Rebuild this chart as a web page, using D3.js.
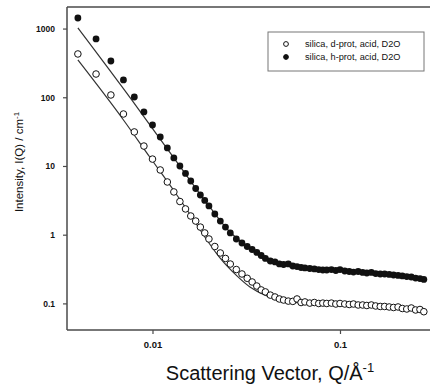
<!DOCTYPE html>
<html>
<head>
<meta charset="utf-8">
<script src="https://cdn.jsdelivr.net/npm/d3@7"></script>
<style>
  html, body { margin: 0; padding: 0; background: #fff; }
  svg { display: block; font-family: "Liberation Sans", Arial, sans-serif; }
</style>
</head>
<body>
<svg id="chart" width="430" height="384"></svg>
<script>
// scattering vector Q (1/Å), shared by both measured series
const qValues = [
  0.004, 0.005, 0.006, 0.007, 0.008, 0.009, 0.010, 0.011, 0.012, 0.013,
  0.014, 0.015, 0.016, 0.017, 0.018, 0.019, 0.020, 0.0215, 0.023, 0.0245,
  0.026, 0.028, 0.030, 0.032, 0.034, 0.036, 0.038, 0.040, 0.0425, 0.045,
  0.0475, 0.050, 0.053, 0.056, 0.059, 0.062, 0.065, 0.069, 0.073, 0.077,
  0.081, 0.085, 0.090, 0.095, 0.100, 0.106, 0.112, 0.118, 0.125, 0.132,
  0.139, 0.147, 0.155, 0.164, 0.173, 0.183, 0.193, 0.204, 0.215, 0.227,
  0.240, 0.253, 0.267, 0.280
];

// silica, d-prot, acid, D2O (open circles)
const dProtValues = [
  427, 218, 108, 57.1, 31.3, 19.5, 12.6, 8.75, 5.85, 4.19,
  3.04, 2.37, 1.87, 1.58, 1.29, 1.06, 0.866, 0.673, 0.542, 0.451,
  0.374, 0.311, 0.268, 0.232, 0.205, 0.179, 0.157, 0.147, 0.132, 0.124,
  0.116, 0.112, 0.108, 0.107, 0.116, 0.103, 0.105, 0.101, 0.103, 0.0997,
  0.101, 0.0997, 0.101, 0.098, 0.0997, 0.098, 0.0964, 0.098, 0.0948, 0.0948,
  0.0932, 0.0948, 0.0917, 0.0902, 0.0902, 0.0887, 0.0872, 0.0887, 0.0843, 0.0829,
  0.0857, 0.0802, 0.0815, 0.0757
];

// silica, h-prot, acid, D2O (filled circles)
const hProtValues = [
  1426, 706, 337, 179, 101, 61.1, 39.5, 26.4, 18.3, 13.1,
  10.0, 7.78, 6.05, 4.70, 3.78, 3.15, 2.62, 2.00, 1.58, 1.29,
  1.06, 0.866, 0.757, 0.673, 0.609, 0.551, 0.498, 0.451, 0.414, 0.401,
  0.375, 0.368, 0.375, 0.350, 0.344, 0.333, 0.328, 0.322, 0.317, 0.311,
  0.306, 0.306, 0.311, 0.301, 0.311, 0.296, 0.291, 0.286, 0.291, 0.282,
  0.277, 0.282, 0.272, 0.268, 0.268, 0.264, 0.259, 0.255, 0.251, 0.246,
  0.242, 0.234, 0.230, 0.223
];

// model fit curves
const dProtFitQ = [0.004, 0.00694, 0.00967, 0.01315, 0.01582, 0.0195, 0.0229, 0.0282, 0.0331, 0.0398, 0.0478, 0.0611, 0.1, 0.1635, 0.277];
const dProtFitI = [349, 48.3, 13.5, 4.18, 2.00, 0.837, 0.458, 0.251, 0.173, 0.132, 0.112, 0.1014, 0.0948, 0.0887, 0.0775];
const hProtFitQ = [0.004, 0.00775, 0.0130, 0.0202, 0.0259, 0.0331, 0.0423, 0.0541, 0.0782, 0.128, 0.209, 0.277];
const hProtFitI = [1021, 91.4, 13.1, 2.53, 1.095, 0.640, 0.443, 0.362, 0.317, 0.286, 0.259, 0.234];

const yTicks = [0.1, 1, 10, 100, 1000];
const yTickLabels = ['0.1', '1', '10', '100', '1000'];
const xTicks = [0.01, 0.1];
const xTickLabels = ['0.01', '0.1'];
const legendLabels = ['silica, d-prot, acid, D2O', 'silica, h-prot, acid, D2O'];

const svg = d3.select('#chart');
const plotLeft = 67, plotRight = 430, plotTop = 7, plotBottom = 330;

const x = d3.scaleLog().domain([0.0035, 0.302]).range([plotLeft, plotRight]);
const y = d3.scaleLog().domain([0.041, 2060]).range([plotBottom, plotTop]);

const frameColor = '#4a4a4a';

// frame: top, left, bottom
svg.append('line')
    .attr('x1', plotLeft).attr('x2', plotRight).attr('y1', plotTop).attr('y2', plotTop)
    .attr('stroke', frameColor).attr('stroke-width', 1.5);

const yAxis = svg.append('g')
    .attr('transform', `translate(${plotLeft},0)`)
    .call(d3.axisLeft(y).tickValues(yTicks).tickFormat((d, i) => yTickLabels[i]).tickSize(4).tickPadding(8));
yAxis.select('.domain').attr('d', `M0,${plotTop}V${plotBottom}`).attr('stroke', frameColor).attr('stroke-width', 1.5);
yAxis.selectAll('.tick text').attr('font-size', 8.5);

const xAxis = svg.append('g')
    .attr('transform', `translate(0,${plotBottom})`)
    .call(d3.axisBottom(x).tickValues(xTicks).tickFormat((d, i) => xTickLabels[i]).tickSize(4).tickPadding(7));
xAxis.select('.domain').attr('d', `M${plotLeft},0H${plotRight}`).attr('stroke', frameColor).attr('stroke-width', 1.5);
xAxis.selectAll('.tick text').attr('font-size', 9.5);

svg.selectAll('.tick line').attr('stroke', frameColor).attr('stroke-width', 1.2);
svg.selectAll('.tick text')
    .attr('font-family', '"Liberation Sans", Arial, sans-serif')
    .attr('font-weight', 'bold')
    .attr('fill', '#111');

// axis titles
svg.append('text')
    .attr('transform', 'translate(23,162) rotate(-90)')
    .attr('text-anchor', 'middle')
    .attr('font-size', 11.5)
    .attr('fill', '#111')
    .text('Intensity, I(Q) / cm')
    .append('tspan')
    .attr('dy', -4.5)
    .attr('font-size', 8)
    .text('-1');

const xTitle = svg.append('text')
    .attr('x', 270)
    .attr('y', 380)
    .attr('text-anchor', 'middle')
    .attr('font-size', 20)
    .attr('fill', '#111')
    .text('Scattering Vector, Q/Å');
xTitle.append('tspan')
    .attr('dy', -8)
    .attr('font-size', 13)
    .text('-1');

// fit lines
const line = d3.line()
    .x(d => x(d[0]))
    .y(d => y(d[1]))
    .curve(d3.curveMonotoneX);

const fits = [
    d3.zip(dProtFitQ, dProtFitI),
    d3.zip(hProtFitQ, hProtFitI)
];

svg.append('g')
    .selectAll('path')
    .data(fits)
    .join('path')
    .attr('d', line)
    .attr('fill', 'none')
    .attr('stroke', '#333')
    .attr('stroke-width', 1.2);

// measured points
const dProtPoints = d3.zip(qValues, dProtValues);
const hProtPoints = d3.zip(qValues, hProtValues);

svg.append('g')
    .selectAll('circle')
    .data(dProtPoints)
    .join('circle')
    .attr('cx', d => x(d[0]))
    .attr('cy', d => y(d[1]))
    .attr('r', 3.3)
    .attr('fill', '#fff')
    .attr('stroke', '#111')
    .attr('stroke-width', 1);

svg.append('g')
    .selectAll('circle')
    .data(hProtPoints)
    .join('circle')
    .attr('cx', d => x(d[0]))
    .attr('cy', d => y(d[1]))
    .attr('r', 3.4)
    .attr('fill', '#111');

// legend
const legend = svg.append('g').attr('transform', 'translate(268,32)');
legend.append('rect')
    .attr('width', 156).attr('height', 39)
    .attr('fill', '#fff')
    .attr('stroke', '#777')
    .attr('stroke-width', 1);

const legendItems = legend.selectAll('g.item')
    .data(legendLabels)
    .join('g')
    .attr('class', 'item')
    .attr('transform', (d, i) => `translate(0,${12 + i * 13})`);

legendItems.append('circle')
    .attr('cx', 18).attr('cy', 0)
    .attr('r', 2.4)
    .attr('fill', (d, i) => i === 0 ? '#fff' : '#111')
    .attr('stroke', '#111')
    .attr('stroke-width', 1);

legendItems.append('text')
    .attr('x', 37).attr('y', 3.3)
    .attr('font-size', 9.2)
    .attr('fill', '#111')
    .text(d => d);
</script>
</body>
</html>
